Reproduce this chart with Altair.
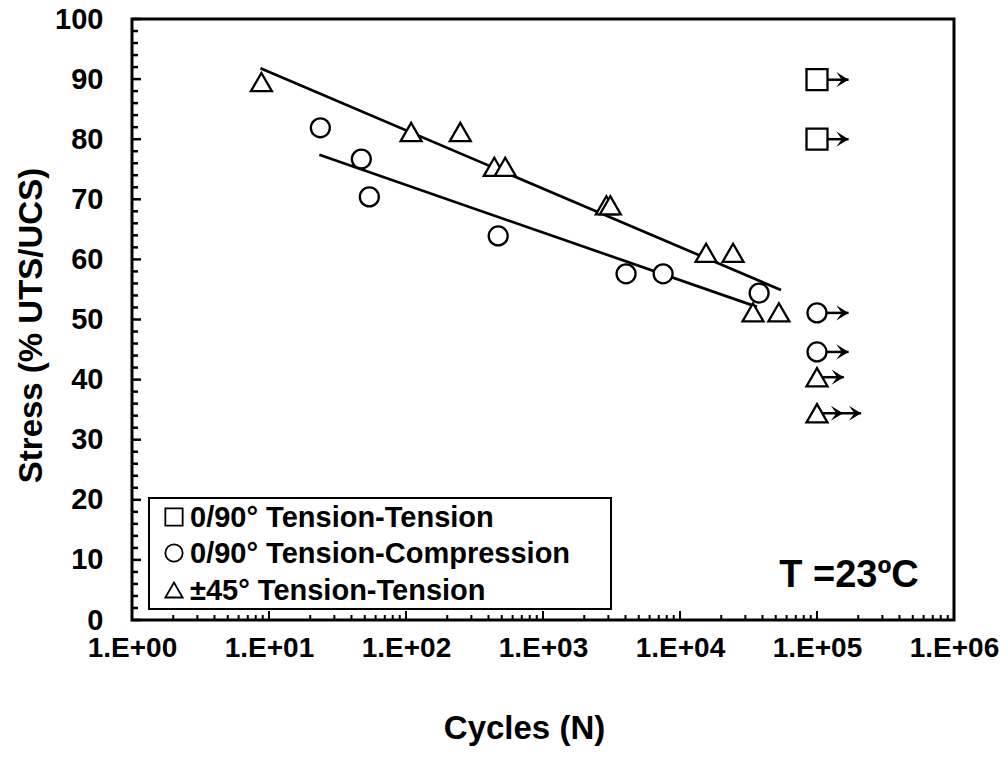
import json
import altair as alt
import pandas as pd

FONT = "Liberation Sans"

SERIES = ["0/90° Tension-Tension", "0/90° Tension-Compression", "±45° Tension-Tension"]
SHAPES = ["square", "circle", "triangle-up"]
SIZES = [440, 360, 440]

# 0/90 tension-tension (run-outs)
tt090_cycles = [1e5, 1e5]
tt090_stress = [89.9, 80.0]
# 0/90 tension-compression
tc090_cycles = [23.7, 47.2, 54, 471, 4040, 7530, 37800, 1e5, 1e5]
tc090_stress = [81.9, 76.7, 70.4, 63.9, 57.6, 57.6, 54.4, 51.1, 44.6]
# +-45 tension-tension
tt45_cycles = [8.8, 109, 249, 441, 530, 2900, 3100, 15500, 24400, 34100, 52700, 1e5, 1e5]
tt45_stress = [89.5, 81.2, 81.2, 75.4, 75.4, 69.0, 69.0, 61.1, 61.1, 51.2, 51.2, 40.4, 34.4]

# run-out arrows
runout_stress = [89.9, 80.0, 51.1, 44.6, 40.4, 34.4]
runout_start = [1e5, 1e5, 1e5, 1e5, 1e5, 1e5]
runout_tip = [1.7e5, 1.7e5, 1.7e5, 1.7e5, 1.57e5, 2.1e5]
extra_head_cycles = [1.55e5]
extra_head_stress = [34.4]

# trend lines
fit_tt45_cycles = [8.66, 54600]
fit_tt45_stress = [91.8, 54.9]
fit_tc090_cycles = [23.3, 36500]
fit_tc090_stress = [77.4, 52.1]

x_tick_values = [1, 10, 100, 1000, 10000, 100000, 1000000]
x_tick_labels = ["1.E+00", "1.E+01", "1.E+02", "1.E+03", "1.E+04", "1.E+05", "1.E+06"]
x_minor_values = [k * 10 ** d for d in range(6) for k in range(2, 10)]
y_tick_values = list(range(0, 101, 10))
y_minor_values = [v for v in range(0, 101, 2) if v % 10 != 0]

W, H = 822, 601

rows = []
for name, size, cs, ss in [(SERIES[0], SIZES[0], tt090_cycles, tt090_stress),
                           (SERIES[1], SIZES[1], tc090_cycles, tc090_stress),
                           (SERIES[2], SIZES[2], tt45_cycles, tt45_stress)]:
    for c, s in zip(cs, ss):
        rows.append({"series": name, "sz": size, "cycles": c, "stress": s})
points = pd.DataFrame(rows)
arrows = pd.DataFrame({"cycles": runout_start, "cycles2": runout_tip, "stress": runout_stress})
heads = pd.DataFrame({"cycles": runout_tip + extra_head_cycles, "stress": runout_stress + extra_head_stress})
fits = pd.DataFrame(
    [{"fit": "tt45", "cycles": c, "stress": s} for c, s in zip(fit_tt45_cycles, fit_tt45_stress)]
    + [{"fit": "tc090", "cycles": c, "stress": s} for c, s in zip(fit_tc090_cycles, fit_tc090_stress)]
)

label_expr = json.dumps(x_tick_labels) + "[round(log(datum.value)/LN10)]"

xscale = alt.Scale(type="log", domain=[1, 1e6], nice=False)
yscale = alt.Scale(domain=[0, 100], nice=False, zero=True)

xaxis = alt.Axis(values=x_tick_values, labelExpr=label_expr, title="Cycles (N)", grid=False,
                 domain=False, ticks=False, tickSize=0, labelFont=FONT, labelFontSize=28,
                 labelFontWeight="bold", labelColor="black", labelPadding=14, labelFlush=False,
                 labelOverlap=False, titleFont=FONT, titleFontSize=33, titleFontWeight="bold",
                 titleColor="black", titlePadding=50, titleX=392)
yaxis = alt.Axis(values=y_tick_values, title="Stress (% UTS/UCS)", grid=False, domain=False,
                 ticks=False, tickSize=0, labelFont=FONT, labelFontSize=29, labelFontWeight="bold",
                 labelColor="black", labelPadding=29, labelFlush=False, labelOverlap=False,
                 titleFont=FONT, titleFontSize=33, titleFontWeight="bold", titleColor="black",
                 titlePadding=6, titleY=306)


def xenc(field="cycles"):
    return alt.X(field, type="quantitative", scale=xscale, axis=xaxis)


def yenc(field="stress"):
    return alt.Y(field, type="quantitative", scale=yscale, axis=yaxis)


xmaj = alt.Chart(pd.DataFrame({"cycles": x_tick_values})).mark_rule(color="black", strokeWidth=2).encode(
    x=xenc(), y=alt.value(H), y2=alt.value(H - 9))
xmin = alt.Chart(pd.DataFrame({"cycles": x_minor_values})).mark_rule(color="black", strokeWidth=2).encode(
    x=xenc(), y=alt.value(H), y2=alt.value(H - 5))
ymaj = alt.Chart(pd.DataFrame({"stress": y_tick_values})).mark_rule(color="black", strokeWidth=2.5).encode(
    y=yenc(), x=alt.value(0), x2=alt.value(9))
ymin = alt.Chart(pd.DataFrame({"stress": y_minor_values})).mark_rule(color="black", strokeWidth=2.5).encode(
    y=yenc(), x=alt.value(0), x2=alt.value(6))

fit_layer = alt.Chart(fits).mark_line(color="black", strokeWidth=2.7).encode(
    x=xenc(), y=yenc(), detail="fit:N")

arrow_layer = alt.Chart(arrows).mark_rule(color="black", strokeWidth=2.5).encode(
    x=xenc(), x2="cycles2", y=yenc())

head_path = "M0,0 L-1,-0.62 L-0.55,0 L-1,0.62 Z"
head_layer = alt.Chart(heads).mark_point(filled=True, color="black", strokeWidth=0, opacity=1).encode(
    x=xenc(), y=yenc(), shape=alt.value(head_path), size=alt.value(600))

point_layer = alt.Chart(points).mark_point(filled=False, fill="white", stroke="black", strokeWidth=2.3,
                                           opacity=1, fillOpacity=1).encode(
    x=xenc(), y=yenc(),
    shape=alt.Shape("series:N", scale=alt.Scale(domain=SERIES, range=SHAPES), legend=None),
    size=alt.Size("sz:Q", scale=None, legend=None),
)

# manual legend (box, symbols, labels)
LEG_FS = 29
LEG_X0, LEG_X1, LEG_Y0, LEG_Y1 = 17, 479, 479, 590
LEG_ROW_Y = [498, 534, 571]
legend_box = alt.Chart(pd.DataFrame({"a": [0]})).mark_rect(
    fill="white", stroke="black", strokeWidth=2).encode(
    x=alt.value(LEG_X0), x2=alt.value(LEG_X1), y=alt.value(LEG_Y0), y2=alt.value(LEG_Y1))
legend_syms = [
    alt.Chart(pd.DataFrame({"series": [s]})).mark_point(
        filled=False, fill="white", stroke="black", strokeWidth=1.8, opacity=1, size=300, shape=shp).encode(
        x=alt.value(42), y=alt.value(yy))
    for s, shp, yy in zip(SERIES, SHAPES, LEG_ROW_Y)
]
legend_txt = [
    alt.Chart(pd.DataFrame({"series": [s]})).mark_text(
        font=FONT, fontSize=LEG_FS, fontWeight="bold", color="black", align="left", baseline="middle").encode(
        text="series:N", x=alt.value(58), y=alt.value(yy + 1))
    for s, yy in zip(SERIES, LEG_ROW_Y)
]

temp_text = alt.Chart(pd.DataFrame({"t": ["T =23ºC"]})).mark_text(
    font=FONT, fontSize=38, fontWeight="bold", color="black", align="center", baseline="alphabetic").encode(
    text="t:N", x=alt.value(717), y=alt.value(568))

chart = alt.layer(xmaj, xmin, ymaj, ymin, fit_layer, arrow_layer, head_layer, point_layer,
                  legend_box, *legend_syms, *legend_txt, temp_text).properties(
    width=W, height=H, padding={"left": 124, "top": 11, "right": 46, "bottom": 128},
    autosize=alt.AutoSizeParams(type="none"),
).configure_view(stroke="black", strokeWidth=3)

chart.save("out.html", embed_options={"renderer": "svg", "actions": False})
